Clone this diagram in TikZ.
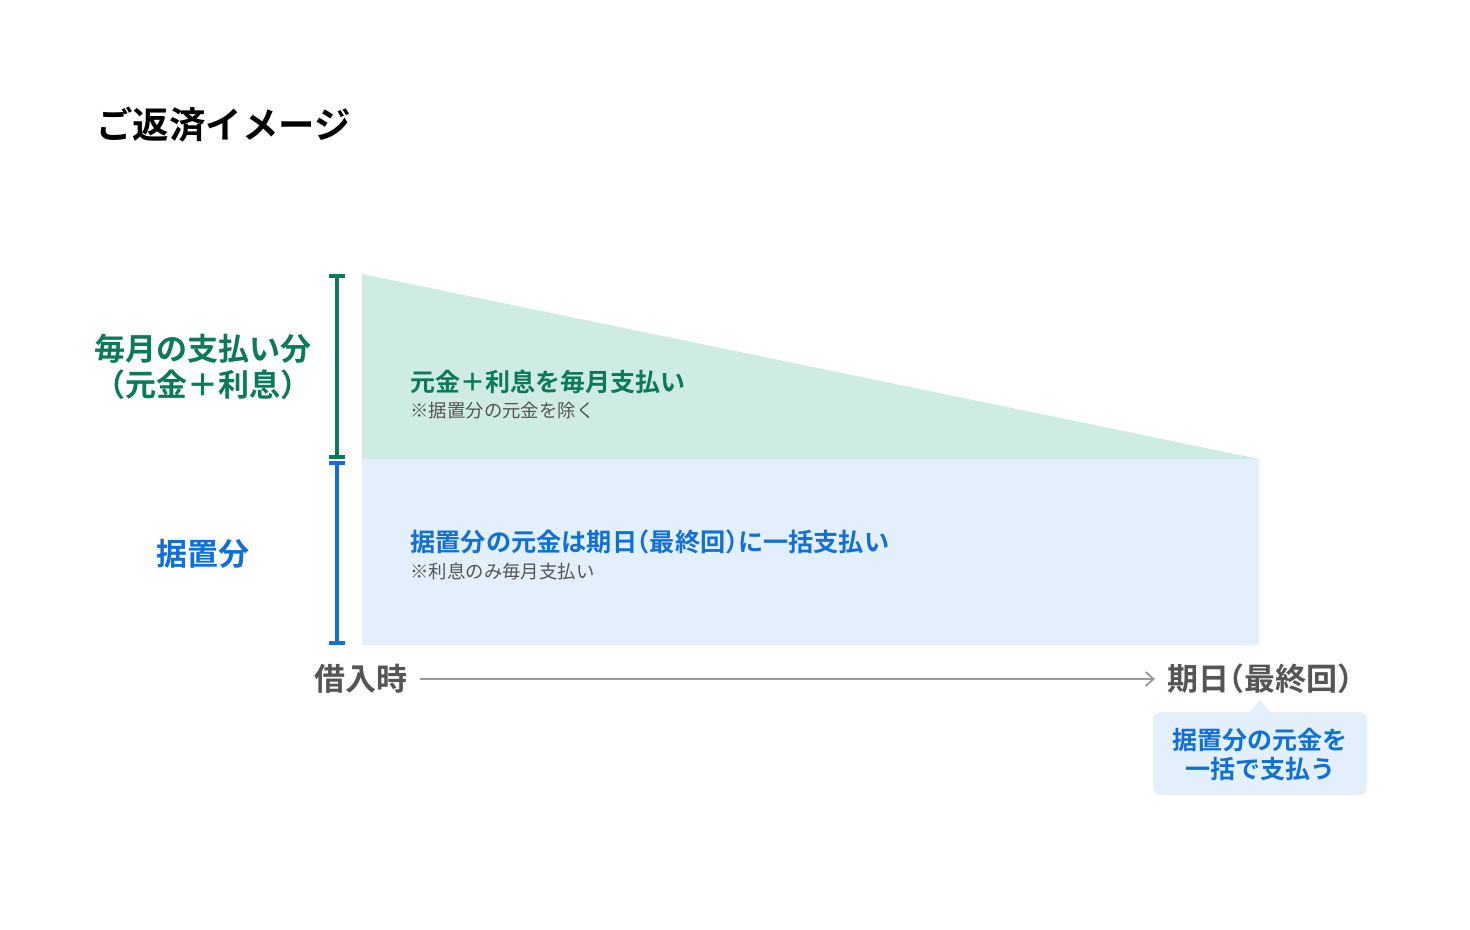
\documentclass[tikz,border=0pt]{standalone}
\usepackage{fontspec}
\setmainfont{Noto Sans CJK JP}[BoldFont={Noto Sans CJK JP Bold}]
\usetikzlibrary{arrows.meta,calc}
\definecolor{gtext}{HTML}{0B7A5A}
\definecolor{gfill}{HTML}{CFECE4}
\definecolor{btext}{HTML}{1070D8}
\definecolor{bfill}{HTML}{E3F0FC}
\definecolor{gray1}{HTML}{555555}
\definecolor{gray2}{HTML}{999999}
\newcommand{\hp}[1]{{\addfontfeature{RawFeature=+halt}#1}}
\tikzset{
  lbl/.style={inner sep=0pt, font=\bfseries},
  note/.style={inner sep=0pt, font=\fontsize{9.2pt}{11pt}\selectfont, text=gray1},
  brk/.style={line width=1.7pt},
}
\begin{document}
\begin{tikzpicture}[x=0.5pt,y=-0.5pt]
\useasboundingbox (0,0) rectangle (1470,930);
\fill[white] (0,0) rectangle (1470,930);
% title
\node[lbl, anchor=west, font=\bfseries\fontsize{18.2pt}{21pt}\selectfont] (title) at (96,125) {ご返済イメージ};
% regions
\fill[gfill] (362,274) -- (1259,459) -- (362,459) -- cycle;
\fill[bfill] (362,459) rectangle (1259,645);
% brackets
\draw[brk, gtext] (337,276) -- (337,457) (329,276) -- (345,276) (329,457) -- (345,457);
\draw[brk, btext] (337,463) -- (337,643) (329,463) -- (345,463) (329,643) -- (345,643);
% left labels
\node[lbl, text=gtext, align=center, font=\bfseries\fontsize{15.5pt}{18pt}\selectfont] (monthly) at (203,367) {毎月の支払い分\\\hp{（}元金＋利息\hp{）}};
\node[lbl, text=btext, font=\bfseries\fontsize{15.5pt}{18pt}\selectfont] (sueoki) at (203,554) {据置分};
% inside texts
\node[lbl, text=gtext, anchor=west, font=\bfseries\fontsize{12.5pt}{15pt}\selectfont] (gmain) at (410,382) {元金＋利息を毎月支払い};
\node[note, anchor=west] (gnote) at (410,411) {※据置分の元金を除く};
\node[lbl, text=btext, anchor=west, font=\bfseries\fontsize{12.6pt}{15pt}\selectfont] (bmain) at (410,542) {据置分の元金は期日\hp{（}最終回\hp{）}に一括支払い};
\node[note, anchor=west] (bnote) at (410,571) {※利息のみ毎月支払い};
% axis
\node[lbl, text=gray1, anchor=west, font=\bfseries\fontsize{15.5pt}{18pt}\selectfont] (start) at (314,679) {借入時};
\node[lbl, text=gray1, anchor=west, font=\bfseries\fontsize{15.5pt}{18pt}\selectfont] (end) at (1167,679) {期日\hp{（}最終回\hp{）}};
\draw[gray2, line width=0.9pt, -{Straight Barb[length=4pt,width=7pt]}] ($(start.east)+(12,0)$) -- ($(end.west)+(-12,0)$);
% callout
\fill[bfill, rounded corners=4pt] (1153,712) rectangle (1367,795);
\fill[bfill] (1249,713) -- (1260,700) -- (1271,713) -- cycle;
\node[lbl, text=btext, align=center, font=\bfseries\fontsize{12.5pt}{14.5pt}\selectfont] (callout) at (1260,754) {据置分の元金を\\一括で支払う};
\end{tikzpicture}
\end{document}
